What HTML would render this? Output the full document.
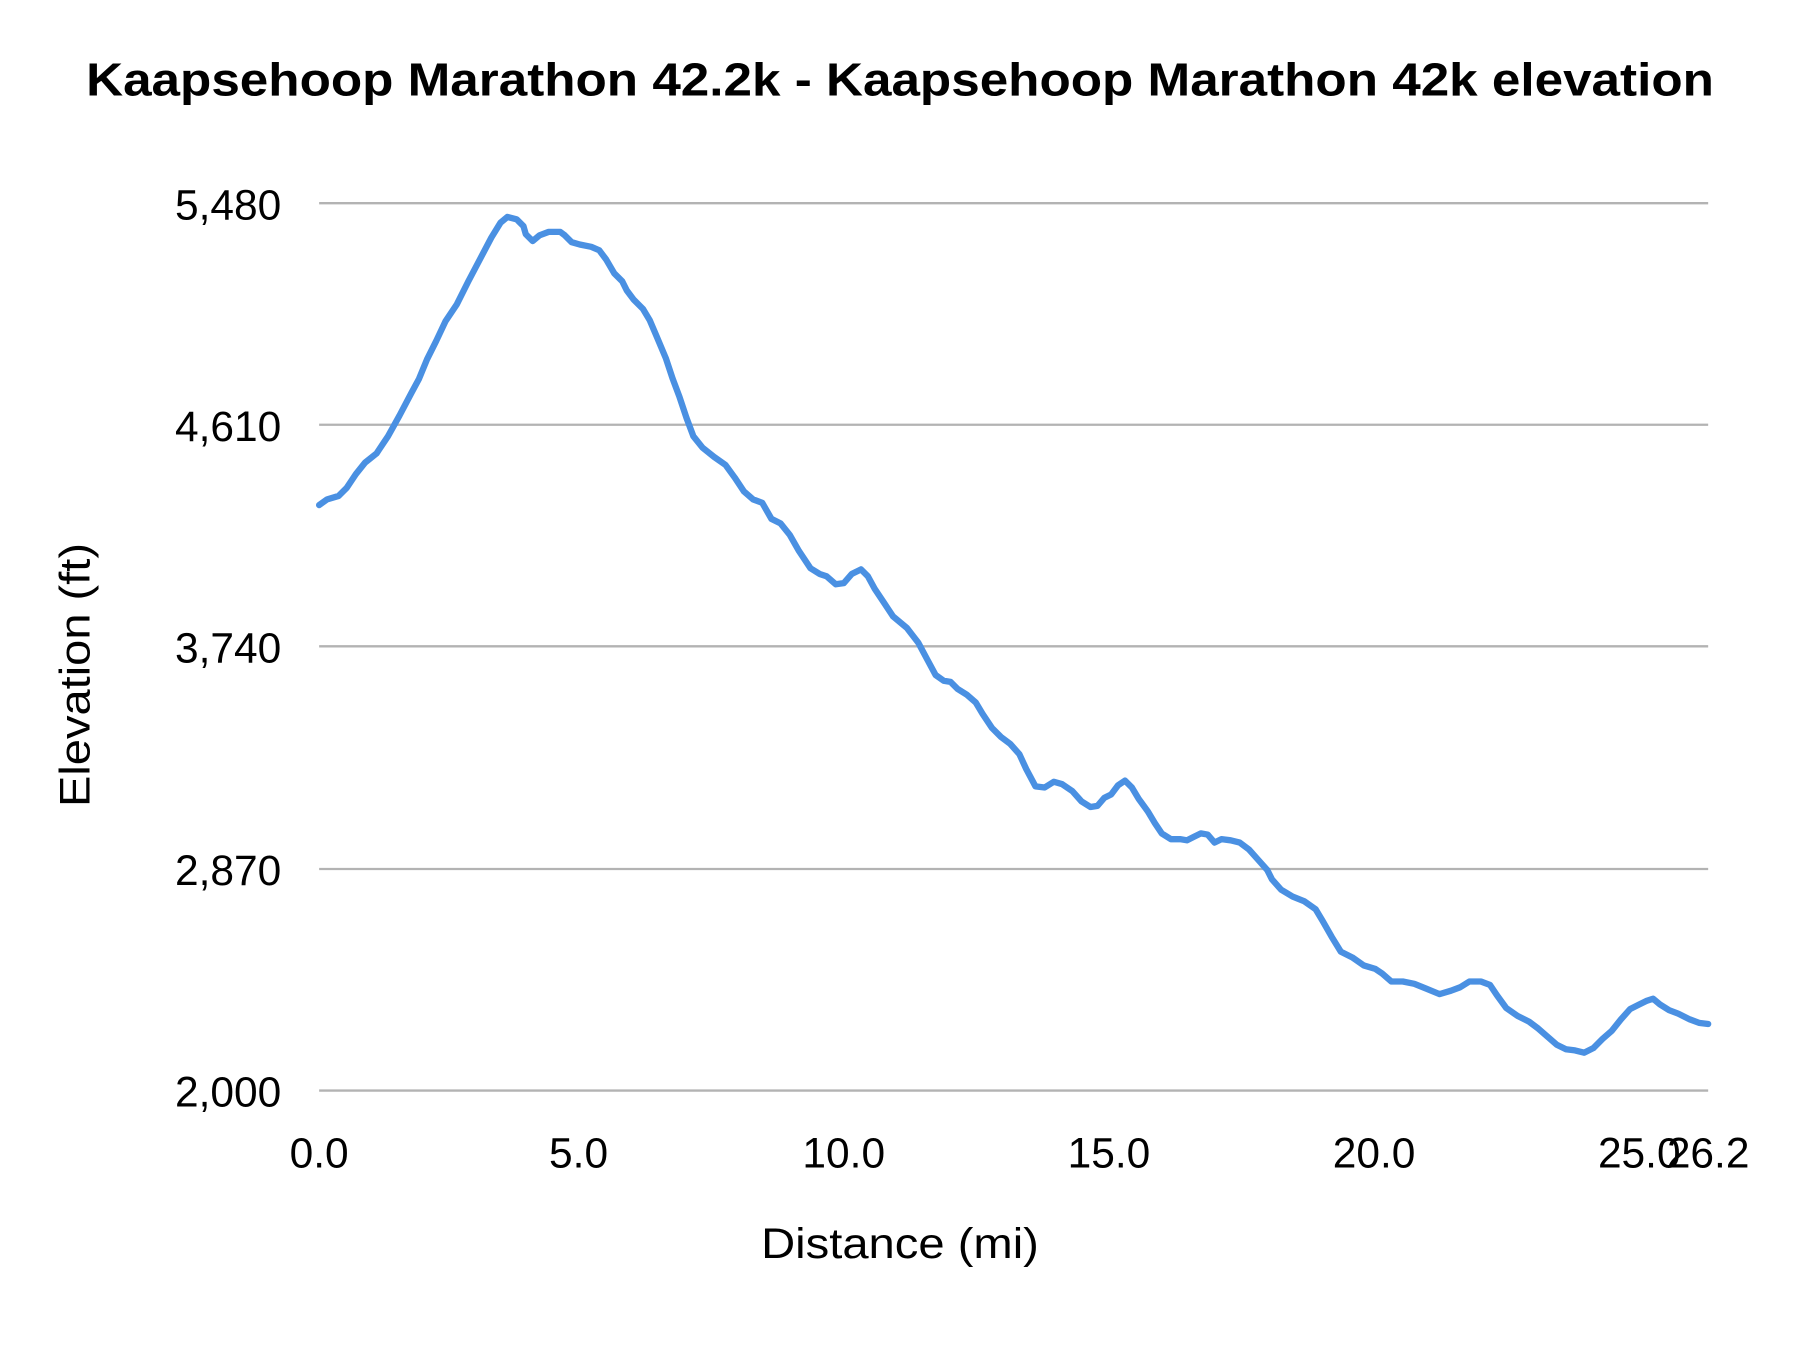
<!DOCTYPE html>
<html><head><meta charset="utf-8"><style>
html,body{margin:0;padding:0;background:#fff;}
svg{display:block;}
text{font-family:"Liberation Sans",sans-serif;fill:#000;}
</style></head><body>
<svg width="1800" height="1350" viewBox="0 0 1568 1176" xmlns="http://www.w3.org/2000/svg">
<rect width="1568" height="1176" fill="#fff"/>
<text x="75" y="83" font-size="40" font-weight="bold" textLength="1418" lengthAdjust="spacingAndGlyphs">Kaapsehoop Marathon 42.2k - Kaapsehoop Marathon 42k elevation</text>
<g stroke="#b3b3b3" stroke-width="2">
<line x1="278" y1="177" x2="1488" y2="177"/>
<line x1="278" y1="370" x2="1488" y2="370"/>
<line x1="278" y1="563" x2="1488" y2="563"/>
<line x1="278" y1="757" x2="1488" y2="757"/>
<line x1="278" y1="950" x2="1488" y2="950"/>
</g>
<g font-size="37" text-anchor="end">
<text x="245" y="191">5,480</text>
<text x="245" y="384">4,610</text>
<text x="245" y="577">3,740</text>
<text x="245" y="771">2,870</text>
<text x="245" y="964">2,000</text>
</g>
<g font-size="37" text-anchor="middle">
<text x="278" y="1017">0.0</text>
<text x="504" y="1017">5.0</text>
<text x="735" y="1017">10.0</text>
<text x="966" y="1017">15.0</text>
<text x="1197" y="1017">20.0</text>
<text x="1428" y="1017">25.0</text>
<text x="1488" y="1017">26.2</text>
</g>
<text x="663" y="1096" font-size="37" textLength="242" lengthAdjust="spacingAndGlyphs">Distance (mi)</text>
<text transform="translate(78,703) rotate(-90)" font-size="37" textLength="230" lengthAdjust="spacingAndGlyphs">Elevation (ft)</text>
<polyline fill="none" stroke="#4a90e2" stroke-width="5.5" stroke-linejoin="round" stroke-linecap="round" points="278,440 285,435 295,432 302,425 310,413 318,403 328,395 338,380 348,362 358,343 365,330 372,313 380,297 388,280 398,265 408,245 418,226 428,207 436,194 442,189 450,191 456,197 458,204 464,210 470,205 478,202 488,202 492,205 498,211 505,213 515,215 522,218 528,226 535,238 542,245 546,253 552,261 560,269 566,279 572,293 580,312 586,330 592,346 598,364 604,380 612,390 622,398 632,405 640,416 648,428 656,435 664,438 672,452 680,456 688,466 696,480 706,495 714,500 720,502 728,509 735,508 742,500 750,496 756,502 762,513 770,525 778,537 790,547 800,560 808,575 815,588 822,593 828,594 834,600 842,605 850,612 856,622 864,634 872,642 880,648 888,657 894,670 902,685 910,686 918,681 925,683 934,689 942,698 950,703 956,702 962,695 968,692 974,684 980,680 986,686 992,696 1000,707 1006,717 1012,726 1020,731 1028,731 1034,732 1040,729 1046,726 1052,727 1058,734 1064,731 1072,732 1080,734 1088,740 1096,749 1104,758 1108,766 1116,775 1126,781 1136,785 1146,792 1152,802 1160,816 1168,829 1178,834 1188,841 1198,844 1204,848 1212,855 1222,855 1232,857 1242,861 1254,866 1264,863 1272,860 1280,855 1290,855 1298,858 1304,867 1312,878 1322,885 1332,890 1340,896 1348,903 1356,910 1364,914 1372,915 1380,917 1388,913 1396,905 1404,898 1412,888 1420,879 1428,875 1434,872 1440,870 1446,875 1454,880 1462,883 1472,888 1480,891 1488,892"/>
</svg>
</body></html>
